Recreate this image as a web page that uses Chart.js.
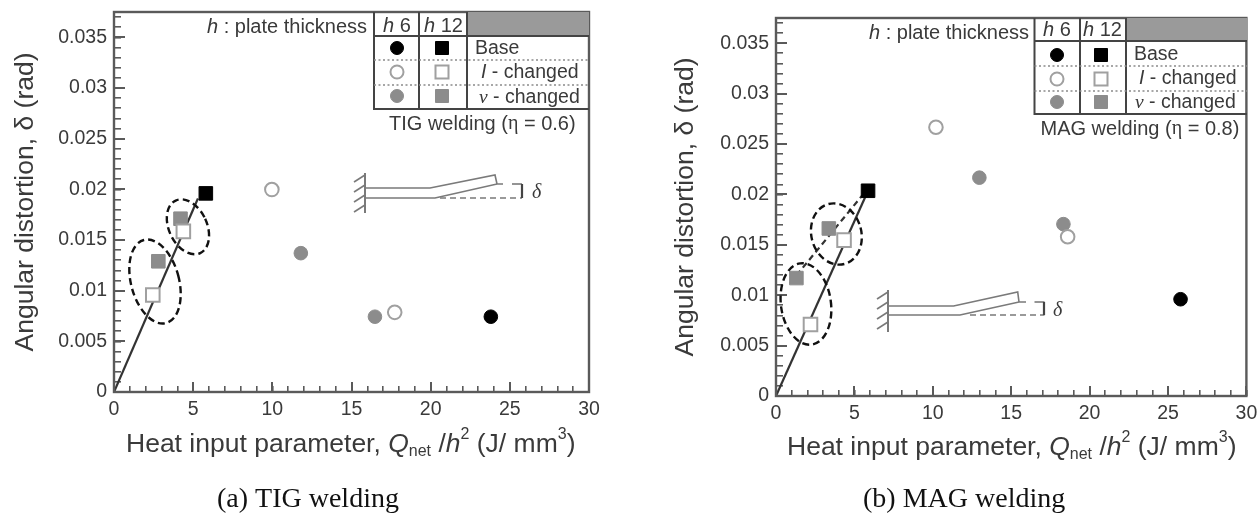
<!DOCTYPE html>
<html><head><meta charset="utf-8">
<script src="https://cdn.jsdelivr.net/npm/chart.js@4"></script>
<style>
html,body{margin:0;padding:0;background:#fff;width:1258px;height:513px;overflow:hidden}
canvas{position:absolute;top:0;filter:blur(.6px)}
#a{left:0}#b{left:625px}
</style></head><body>
<canvas id="a" width="625" height="513"></canvas>
<canvas id="b" width="633" height="513"></canvas>
<script>
const xTicks=[0,5,10,15,20,25,30];
const yTicks=[0,0.005,0.01,0.015,0.02,0.025,0.03,0.035];
const tigBaseH12=[{x:5.8,y:0.0196}];
const tigIH12=[{x:4.38,y:0.01585},{x:2.45,y:0.00958}];
const tigVH12=[{x:4.2,y:0.0171},{x:2.8,y:0.0129}];
const tigBaseH6=[{x:23.8,y:0.00743}];
const tigIH6=[{x:9.97,y:0.01998},{x:17.73,y:0.00786}];
const tigVH6=[{x:11.8,y:0.0137},{x:16.48,y:0.00743}];
const tigFit=[{x:0,y:0},{x:5.3,y:0.0191}];
const tigGroups=[{x:2.59,y:0.0109},{x:4.67,y:0.0163}];
const magBaseH12=[{x:5.87,y:0.02036}];
const magIH12=[{x:4.34,y:0.01546},{x:2.2,y:0.0071}];
const magVH12=[{x:3.37,y:0.01662},{x:1.3,y:0.0117}];
const magBaseH6=[{x:25.8,y:0.0096}];
const magIH6=[{x:10.2,y:0.02666},{x:18.6,y:0.0158}];
const magVH6=[{x:12.97,y:0.02166},{x:18.33,y:0.01705}];
const magFit=[{x:0,y:0},{x:5.87,y:0.02036}];
const magFitV=[{x:0.9,y:0.0112},{x:5.5,y:0.0199}];
const magGroups=[{x:1.91,y:0.00913},{x:3.85,y:0.01607}];
const legendRows=['Base','changed','changed'];

const SANS='"Liberation Sans"',SERIF='"Liberation Serif"';
const INK='#3a3a3a',AX='#5a5a5a',GR='#8c8c8c',OPEN='#a0a0a0';

function runs(c,x,y,parts){
  c.textBaseline='middle';c.textAlign='left';
  for(const p of parts){
    c.font=p.f;c.fillStyle=p.c||INK;
    c.fillText(p.t,x,y+(p.dy||0));
    x+=c.measureText(p.t).width;
  }
}
function mark(c,x,y,kind,shape){
  const fill=kind==0?'#000':kind==1?'#fff':GR;
  c.fillStyle=fill;c.strokeStyle=kind==1?OPEN:fill;c.lineWidth=kind==1?2:1;
  c.beginPath();
  if(shape=='c')c.arc(x,y,6.5,0,Math.PI*2);else c.rect(x-6.5,y-6.5,13,13);
  c.fill();c.stroke();
}
function line(c,pts,dash,w,col){
  c.save();c.strokeStyle=col||'#7a7a7a';c.lineWidth=w||1.6;c.setLineDash(dash||[]);
  c.beginPath();pts.forEach((p,i)=>i?c.lineTo(p[0],p[1]):c.moveTo(p[0],p[1]));c.stroke();c.restore();
}
function deco(cfg){return {id:'deco',afterDatasetsDraw(ch){
  const c=ch.ctx,o=cfg.dx,a=ch.chartArea;
  c.save();
  cfg.groups.forEach((g,i)=>{
    const e=cfg.ell[i];
    c.save();c.strokeStyle='#111';c.lineWidth=2.4;c.setLineDash([7,4]);
    c.beginPath();c.ellipse(ch.scales.x.getPixelForValue(g.x),ch.scales.y.getPixelForValue(g.y),e[0],e[1],e[2]*Math.PI/180,0,Math.PI*2);c.stroke();c.restore();
  });
  c.strokeStyle=AX;c.lineWidth=2.4;c.strokeRect(a.left,a.top,a.right-a.left,a.bottom-a.top);
  const T=cfg.table;
  c.fillStyle='#9a9a9a';c.fillRect(T.c2-o,T.t,T.r-T.c2,T.h-T.t);
  line(c,[[T.l-o,T.t],[T.l-o,T.b],[T.r-o,T.b]],[],2,'#444');
  line(c,[[T.l-o,T.h],[T.r-o,T.h]],[],2,'#444');
  line(c,[[T.c1-o,T.t],[T.c1-o,T.b]],[],2,'#444');
  line(c,[[T.c2-o,T.t],[T.c2-o,T.b]],[],2,'#444');
  T.dots.forEach(y=>line(c,[[T.l-o,y],[T.r-o,y]],[2,2.5],1.3,'#8a8a8a'));
  T.rows.forEach((y,i)=>{mark(c,T.m1-o,y,i,'c');mark(c,T.m2-o,y,i,'s');});
  const f=cfg.fs+'px '+SANS, fi='italic '+f, fr='19.5px '+SANS;
  runs(c,T.m1-o-14,T.hy,[{t:'h',f:fi},{t:' 6',f}]);
  runs(c,T.m2-o-18,T.hy,[{t:'h',f:fi},{t:' 12',f}]);
  runs(c,T.tx[0]-o,T.rows[0]+T.off[0],[{t:legendRows[0],f:fr}]);
  runs(c,T.tx[1]-o,T.rows[1]+T.off[1],[{t:'I',f:'italic '+fr},{t:' - '+legendRows[1],f:fr}]);
  runs(c,T.tx[2]-o,T.rows[2]+T.off[2],[{t:'\u03BD',f:'italic 19.5px '+SERIF},{t:' - '+legendRows[2],f:fr}]);
  runs(c,cfg.plate[0]-o,cfg.plate[1],[{t:'h',f:fi},{t:' : plate thickness',f}]);
  runs(c,cfg.proc[0]-o,cfg.proc[1],[{t:cfg.procName+' welding (',f},{t:'\u03B7',f:cfg.fs+'px '+SERIF},{t:' = '+cfg.eta+')',f}]);
  const D=cfg.sk,L=(p)=>p.map(q=>[q[0]-o,q[1]]);
  line(c,L(D.up));line(c,L(D.low));line(c,L(D.dash),[6,4]);line(c,L(D.dim));line(c,L(D.arrow),[],2.2,'#444');
  line(c,L([[D.wall[0],D.wall[1]],[D.wall[0],D.wall[2]]]),[],2);
  for(let y=D.wall[1]+2;y<D.wall[2]-4;y+=10)line(c,L([[D.wall[0],y],[D.wall[0]-11,y+7]]),[],1.6);
  runs(c,D.d[0]-o,D.d[1],[{t:'\u03B4',f:'italic 20px '+SERIF}]);
  const tf='26.5px '+SANS,ti='italic '+tf,sm='16px '+SANS;
  runs(c,cfg.xt[0]-o,cfg.xt[1],[
    {t:'Heat input parameter, ',f:tf},{t:'Q',f:ti},{t:'net',f:sm,dy:7},{t:' /',f:tf},{t:'h',f:ti},
    {t:'2',f:sm,dy:-10},{t:' (J/ mm',f:tf},{t:'3',f:sm,dy:-10},{t:')',f:tf}]);
  runs(c,cfg.cap[0]-o,cfg.cap[1],[{t:cfg.capText,f:'28px '+SERIF,c:'#111'}]);
  c.restore();
}};}

function ds(data,style,shape,label){
  const k={black:['#000','#000'],open:['#fff',OPEN],gray:[GR,GR]}[style];
  return {label,data,showLine:false,order:0,pointStyle:shape,pointRadius:shape=='rect'?9.6:6.8,pointBackgroundColor:k[0],pointBorderColor:k[1],pointBorderWidth:style=='open'?2:1};
}
function ln(data,dash){return {label:'trend',data,showLine:true,order:2,pointRadius:0,borderColor:'#333',borderWidth:2.2,borderDash:dash||[]};}
function noPad(s){s.paddingLeft=s.paddingRight=s.paddingTop=s.paddingBottom=0;}

function makeChart(id,datasets,cfg){
  new Chart(document.getElementById(id),{type:'scatter',data:{datasets},
    options:{responsive:false,animation:false,
      layout:{padding:{left:0,top:cfg.top,right:cfg.w-cfg.right,bottom:0}},
      plugins:{legend:{display:false},tooltip:{enabled:false}},
      scales:{
        x:{type:'linear',position:'bottom',min:0,max:30,
          ticks:{stepSize:5,includeBounds:false,autoSkip:false,maxRotation:0,color:INK,font:{family:SANS,size:19.5},padding:16},
          grid:{drawOnChartArea:false,tickLength:-10,color:AX,lineWidth:2},border:{color:AX,width:2},
          afterFit(s){s.height=513-cfg.bottom;noPad(s);}},
        xm:{type:'linear',axis:'x',position:'bottom',min:0,max:30,weight:-5,
          ticks:{stepSize:1,includeBounds:false,autoSkip:false,display:false},
          grid:{drawOnChartArea:false,tickLength:-6,color:AX,lineWidth:1.6},border:{display:false},
          afterFit(s){s.height=0;noPad(s);}},
        y:{type:'linear',position:'left',min:0,max:0.0375,
          title:{display:true,text:'Angular distortion, \u03B4 (rad)',color:INK,font:{family:SANS,size:26.5},padding:{top:cfg.ytp,bottom:0}},
          ticks:{stepSize:0.005,includeBounds:false,autoSkip:false,color:INK,font:{family:SANS,size:19.5},padding:18,callback:v=>String(+v.toFixed(3))},
          grid:{drawOnChartArea:false,tickLength:-11,color:AX,lineWidth:2},border:{color:AX,width:2},
          afterFit(s){s.width=cfg.left;noPad(s);}},
        ym:{type:'linear',axis:'y',position:'left',min:0,max:0.0375,weight:-5,
          ticks:{stepSize:0.001,includeBounds:false,autoSkip:false,display:false},
          grid:{drawOnChartArea:false,tickLength:-7,color:AX,lineWidth:1.6},border:{display:false},
          afterFit(s){s.width=0;noPad(s);}}
      }},
    plugins:[deco(cfg)]});
}

makeChart('a',[
  ds(tigBaseH12,'black','rect','Base h12'),ds(tigIH12,'open','rect','I-changed h12'),ds(tigVH12,'gray','rect','v-changed h12'),
  ds(tigBaseH6,'black','circle','Base h6'),ds(tigIH6,'open','circle','I-changed h6'),ds(tigVH6,'gray','circle','v-changed h6'),
  ln(tigFit)
],{dx:0,w:625,left:114,right:589,top:12,bottom:392,ytp:10,fs:20,
  groups:tigGroups,ell:[[24,43,-15],[19,29,-25]],
  table:{l:374,c1:419,c2:467,r:589,t:12,h:36,b:109,dots:[60,85],rows:[48,72,96],m1:397,m2:442,hy:26,tx:[475,481,479],off:[1,1,2]},
  plate:[207,27],proc:[389,124],procName:'TIG',eta:'0.6',
  sk:{up:[[365,188],[430,188],[495,175],[497,184]],low:[[365,198],[435,198],[497,184],[503,184]],dash:[[440,198],[522,198]],dim:[[512,184],[522,184]],arrow:[[522,184],[522,198]],wall:[365,173,213],d:[532,193]},
  xt:[126,445],cap:[217,500],capText:'(a) TIG welding'});

makeChart('b',[
  ds(magBaseH12,'black','rect','Base h12'),ds(magIH12,'open','rect','I-changed h12'),ds(magVH12,'gray','rect','v-changed h12'),
  ds(magBaseH6,'black','circle','Base h6'),ds(magIH6,'open','circle','I-changed h6'),ds(magVH6,'gray','circle','v-changed h6'),
  ln(magFit),ln(magFitV,[6,4])
],{dx:625,w:633,left:151,right:622,top:18,bottom:396,ytp:45,fs:20,
  groups:magGroups,ell:[[25,41,-8],[25,31,-15]],
  table:{l:1034.5,c1:1080,c2:1126,r:1247,t:18,h:41,b:114,dots:[66,91],rows:[55,79,102],m1:1057,m2:1101,hy:30,tx:[1134,1139,1135],off:[0,0,1]},
  plate:[869,33],proc:[1040.5,129],procName:'MAG',eta:'0.8',
  sk:{up:[[888,306],[953.6,306],[1017.7,292],[1019,302]],low:[[888,315],[960,315],[1019,302],[1026,302]],dash:[[970,315],[1044.5,315]],dim:[[1034.5,302],[1044.5,302]],arrow:[[1044,302],[1044,315]],wall:[888,290,332],d:[1053,311]},
  xt:[787,448],cap:[863,500],capText:'(b) MAG welding'});
</script>
</body></html>
